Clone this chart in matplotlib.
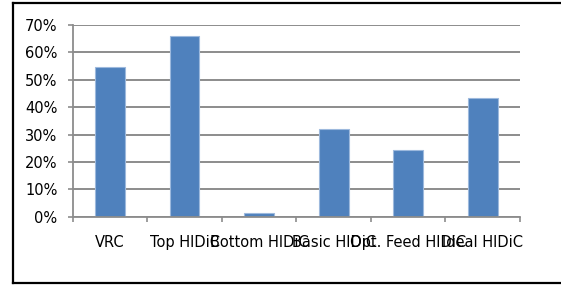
import matplotlib
matplotlib.use("Agg")
import matplotlib.pyplot as plt
from matplotlib.lines import Line2D
from matplotlib.ticker import FixedLocator, PercentFormatter

categories = ["VRC", "Top HIDiC", "Bottom HIDiC", "Basic HIDiC", "Opt. Feed HIDiC", "Ideal HIDiC"]
values = [54.8, 66.1, 1.3, 32.0, 24.4, 43.2]
yticks = [0, 10, 20, 30, 40, 50, 60, 70]

W, H = 561, 286
fig = plt.figure(figsize=(W / 100, H / 100), dpi=100)
fig.patch.set_facecolor("white")

ax = fig.add_axes([72.7 / W, 1 - 216.7 / H, (520 - 72.7) / W, (216.7 - 25) / H])
x = list(range(len(categories)))
ax.bar(x, values, width=0.4, color="#4F81BD", edgecolor="#9DB9DD", linewidth=0.8, zorder=3)

ax.set_xlim(-0.5, len(categories) - 0.5)
ax.set_ylim(0, 70)
ax.yaxis.set_major_locator(FixedLocator(yticks))
ax.yaxis.set_major_formatter(PercentFormatter(decimals=0))
ax.grid(axis="y", color="#8C8C8C", linewidth=1.4, zorder=0)

ax.xaxis.set_major_locator(FixedLocator([i - 0.5 for i in range(len(categories) + 1)]))
ax.xaxis.set_major_formatter(plt.NullFormatter())
ax.xaxis.set_minor_locator(FixedLocator(x))
ax.set_xticklabels(categories, minor=True)
ax.tick_params(axis="x", which="major", length=3.6, width=1.2, color="#8C8C8C")
ax.tick_params(axis="x", which="minor", length=0, pad=13, labelsize=10.5, labelcolor="black")
ax.tick_params(axis="y", length=3.4, width=1.2, color="#8C8C8C", pad=7.5, labelsize=10.5)

for s in ["top", "right"]:
    ax.spines[s].set_visible(False)
for s in ["left", "bottom"]:
    ax.spines[s].set_color("#8C8C8C")
    ax.spines[s].set_linewidth(1.3)
ax.spines["bottom"].set_zorder(4)

# outer chart border (right edge outside the image)
x0, y0, y1 = 12.5 / W, 1 - 283 / H, 1 - 3 / H
for xs, ys in [([x0, x0], [y0, y1]), ([x0, 1.02], [y1, y1]), ([x0, 1.02], [y0, y0])]:
    fig.add_artist(Line2D(xs, ys, color="black", linewidth=1.6, transform=fig.transFigure))

fig.savefig("out.png", dpi=100)
